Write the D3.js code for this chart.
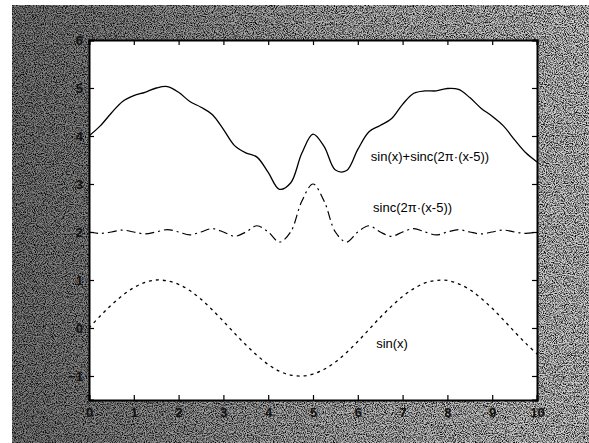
<!DOCTYPE html>
<html>
<head>
<meta charset="utf-8">
<script src="https://cdn.jsdelivr.net/npm/d3@7"></script>
<style>
  html, body { margin: 0; padding: 0; background: #fff; }
  svg { display: block; }
</style>
</head>
<body>
<div id="chart"></div>
<script>
// x grid the curves were sampled on
const xValues = [0, 0.25, 0.5, 0.75, 1, 1.25, 1.5, 1.75, 2, 2.25, 2.5, 2.75, 3, 3.25, 3.5, 3.75, 4, 4.25, 4.5, 4.75,
  5, 5.25, 5.5, 5.75, 6, 6.25, 6.5, 6.75, 7, 7.25, 7.5, 7.75, 8, 8.25, 8.5, 8.75, 9, 9.25, 9.5, 9.75, 10];

// sin(x)+sinc(2pi(x-5)), drawn shifted up to 4
const sumValues = [4.00, 4.21, 4.48, 4.72, 4.84, 4.91, 5.00, 5.03, 4.91, 4.72, 4.60, 4.45, 4.14, 3.80, 3.65, 3.56,
  3.24, 2.89, 3.02, 3.64, 4.04, 3.78, 3.29, 3.28, 3.72, 4.09, 4.22, 4.36, 4.66, 4.89, 4.94, 4.94, 4.99, 4.97,
  4.80, 4.58, 4.41, 4.21, 3.92, 3.65, 3.46];

// sinc(2pi(x-5)), drawn shifted up to 2
const sincValues = [2.00, 1.97, 2.00, 2.04, 2.00, 1.96, 2.00, 2.05, 2.00, 1.94, 2.00, 2.07, 2.00, 1.91, 2.00, 2.13,
  2.00, 1.79, 2.00, 2.64, 3.00, 2.64, 2.00, 1.79, 2.00, 2.13, 2.00, 1.91, 2.00, 2.07, 2.00, 1.94, 2.00, 2.05,
  2.00, 1.96, 2.00, 2.04, 2.00, 1.97, 2.00];

// sin(x)
const sinValues = [0.00, 0.25, 0.48, 0.68, 0.84, 0.95, 1.00, 0.98, 0.91, 0.78, 0.60, 0.38, 0.14, -0.11, -0.35, -0.57,
  -0.76, -0.90, -0.98, -1.00, -0.96, -0.86, -0.71, -0.51, -0.28, -0.03, 0.22, 0.45, 0.66, 0.82, 0.94, 0.99, 0.99,
  0.92, 0.80, 0.62, 0.41, 0.17, -0.08, -0.32, -0.54];

const xTicks = [0, 1, 2, 3, 4, 5, 6, 7, 8, 9, 10];
const yTicks = [-1, 0, 1, 2, 3, 4, 5, 6];

const labelText = ["sin(x)+sinc(2\u03C0\u00B7(x-5))", "sinc(2\u03C0\u00B7(x-5))", "sin(x)"];
const labelX = [6.29, 6.34, 6.41];
const labelY = [3.48, 2.42, -0.42];

const W = 589, H = 443;
const margin = {top: 40, right: 52, bottom: 43, left: 89};
const width = W - margin.left - margin.right;
const height = H - margin.top - margin.bottom;

const svg = d3.select("#chart").append("svg")
  .attr("width", W)
  .attr("height", H);

const defs = svg.append("defs");

// scanned-paper look: grey gradient + speckle noise
const grad = defs.append("linearGradient").attr("id", "bg").attr("x1", "0").attr("x2", "1").attr("y1", "0").attr("y2", "0");
grad.append("stop").attr("offset", "0").attr("stop-color", "#7c7c7c");
grad.append("stop").attr("offset", "0.14").attr("stop-color", "#878787");
grad.append("stop").attr("offset", "0.55").attr("stop-color", "#b6b6b6");
grad.append("stop").attr("offset", "1").attr("stop-color", "#d2d2d2");

const noise = defs.append("filter").attr("id", "noise")
  .attr("x", 0).attr("y", 0).attr("width", "100%").attr("height", "100%");
noise.append("feTurbulence")
  .attr("type", "fractalNoise")
  .attr("baseFrequency", 0.9)
  .attr("numOctaves", 2)
  .attr("seed", 7);
noise.append("feColorMatrix")
  .attr("type", "matrix")
  .attr("values", "0 0 0 0 0  0 0 0 0 0  0 0 0 0 0  2.6 0 0 0 -1.0");

svg.append("rect")
  .attr("x", 12).attr("y", 5)
  .attr("width", W - 12).attr("height", H - 5)
  .attr("fill", "url(#bg)");
svg.append("rect")
  .attr("x", 12).attr("y", 5)
  .attr("width", W - 12).attr("height", H - 5)
  .attr("filter", "url(#noise)");

const g = svg.append("g")
  .attr("transform", `translate(${margin.left},${margin.top})`);

const x = d3.scaleLinear().domain([0, 10]).range([0, width]);
const y = d3.scaleLinear().domain([-1.5, 6]).range([height, 0]);

g.append("rect")
  .attr("width", width)
  .attr("height", height)
  .attr("fill", "#fff");

const line = d3.line()
  .x((d, i) => x(xValues[i]))
  .y(d => y(d))
  .curve(d3.curveCatmullRom);

g.append("path")
  .datum(sumValues)
  .attr("d", line)
  .attr("fill", "none")
  .attr("stroke", "#000")
  .attr("stroke-width", 1.3);

g.append("path")
  .datum(sincValues)
  .attr("d", line)
  .attr("fill", "none")
  .attr("stroke", "#000")
  .attr("stroke-width", 1.2)
  .attr("stroke-dasharray", "9,4,2,4");

g.append("path")
  .datum(sinValues)
  .attr("d", line)
  .attr("fill", "none")
  .attr("stroke", "#000")
  .attr("stroke-width", 1.3)
  .attr("stroke-dasharray", "3,4");

g.selectAll(".curve-label")
  .data(labelText)
  .enter().append("text")
  .attr("class", "curve-label")
  .attr("x", (d, i) => x(labelX[i]))
  .attr("y", (d, i) => y(labelY[i]))
  .attr("font-family", "Liberation Sans, Arial, sans-serif")
  .attr("font-size", 13)
  .attr("fill", "#000")
  .text(d => d);

// axes, ticks pointing inward like the original box
g.append("g")
  .attr("transform", `translate(0,${height})`)
  .call(d3.axisBottom(x).tickValues(xTicks).tickSize(-5).tickPadding(8).tickFormat(d3.format("d")));
g.append("g")
  .call(d3.axisTop(x).tickValues(xTicks).tickSize(-5).tickFormat(""));
g.append("g")
  .call(d3.axisLeft(y).tickValues(yTicks).tickSize(-5).tickPadding(6).tickFormat(d3.format("d")));
g.append("g")
  .attr("transform", `translate(${width},0)`)
  .call(d3.axisRight(y).tickValues(yTicks).tickSize(-5).tickFormat(""));

g.selectAll(".domain").attr("stroke", "#000").attr("stroke-width", 2);
g.selectAll(".tick line").attr("stroke", "#000").attr("stroke-width", 1.2);
g.selectAll(".tick text")
  .attr("font-family", "Liberation Sans, Arial, sans-serif")
  .attr("font-weight", "bold")
  .attr("font-size", 13)
  .attr("fill", "#111");
</script>
</body>
</html>
